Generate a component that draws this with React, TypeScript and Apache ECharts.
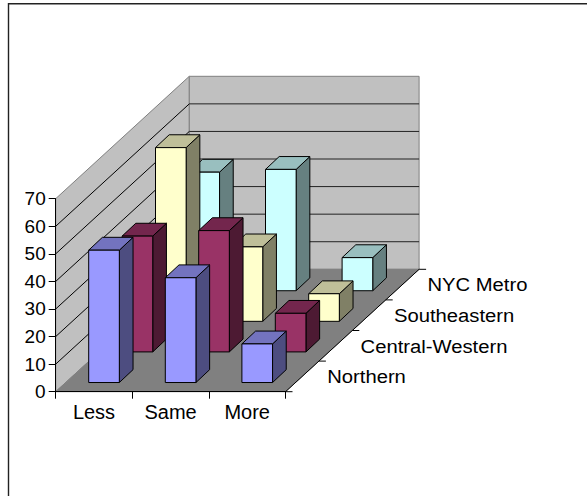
import React, { useEffect, useRef } from "react";
import * as echarts from "echarts";

const categories = ["Less", "Same", "More"];
const rowNames = ["Northern", "Central-Western", "Southeastern", "NYC Metro"];
const northern = [48, 38, 14];
const centralWestern = [42, 44, 14];
const southeastern = [63, 27, 10];
const nycMetro = [43, 44, 12];
const rowValues = [northern, centralWestern, southeastern, nycMetro];
const yTicks = [0, 10, 20, 30, 40, 50, 60, 70];

const FONT = "'Liberation Sans', Arial, sans-serif";
const FS = 19;
const DX = 33.4; // depth projection, one row
const DY = -30.6;
const GRID = { left: 55.7, top: 198.7, width: 229.8, height: 193 };

const rowColors = [
  { front: "#9999FF", top: "#7373BF", side: "#4D4D80" },
  { front: "#993366", top: "#73264D", side: "#4D1A33" },
  { front: "#FFFFCC", top: "#BFBF99", side: "#808066" },
  { front: "#CCFFFF", top: "#99BFBF", side: "#668080" },
];

const poly = (points: number[][], fill: string, stroke: string, lineWidth = 1) => ({
  type: "polygon",
  shape: { points },
  style: { fill, stroke, lineWidth },
});
const seg = (a: number[], b: number[], stroke: string, lineWidth = 1) => ({
  type: "line",
  shape: { x1: a[0], y1: a[1], x2: b[0], y2: b[1] },
  style: { stroke, lineWidth },
});

const renderWalls = (_p: any, api: any) => {
  const band = api.size([1, 0])[0];
  const n = categories.length;
  const left = api.coord([0, 0])[0] - band / 2;
  const right = left + band * n;
  const d = rowNames.length;
  const y0 = api.coord([0, 0])[1];
  const yMax = api.coord([0, yTicks[yTicks.length - 1]])[1];
  const bx = d * DX;
  const by = d * DY;
  const children: any[] = [
    poly([[left, y0], [left + bx, y0 + by], [left + bx, yMax + by], [left, yMax]], "#C0C0C0", "#808080"),
    poly([[left + bx, y0 + by], [right + bx, y0 + by], [right + bx, yMax + by], [left + bx, yMax + by]], "#C0C0C0", "#808080"),
    poly([[left, y0], [right, y0], [right + bx, y0 + by], [left + bx, y0 + by]], "#808080", "#808080"),
  ];
  yTicks.slice(1, -1).forEach((t) => {
    const y = api.coord([0, t])[1];
    children.push(seg([left, y], [left + bx, y + by], "#000"));
    children.push(seg([left + bx, y + by], [right + bx, y + by], "#222"));
  });
  return { type: "group", children };
};

const renderDepth = (_p: any, api: any) => {
  const band = api.size([1, 0])[0];
  const right = api.coord([0, 0])[0] - band / 2 + band * categories.length;
  const y0 = api.coord([0, 0])[1];
  const d = rowNames.length;
  const children: any[] = [seg([right, y0], [right + d * DX, y0 + d * DY], "#000")];
  for (let j = 0; j <= d; j++) {
    const x = right + j * DX;
    const y = y0 + j * DY;
    children.push(seg([x, y], [x + 7, y], "#000"));
  }
  rowNames.forEach((name, j) => {
    const x = right + (j + 0.5) * DX + 25;
    const y = y0 + (j + 0.5) * DY;
    children.push({
      type: "text",
      x,
      y,
      scaleX: 1.065,
      style: { text: name, fill: "#000", fontSize: FS, fontFamily: FONT, align: "left", verticalAlign: "middle" },
    });
  });
  return { type: "group", children };
};

const makeBarRenderer = (row: number) => (_p: any, api: any) => {
  const c = api.coord([api.value(0), 0]);
  const top = api.coord([api.value(0), api.value(1)])[1];
  const band = api.size([1, 0])[0];
  const h = c[1] - top;
  const w = band * 0.4;
  const f0 = row + 0.3;
  const x0 = c[0] - w / 2 + f0 * DX;
  const x1 = x0 + w;
  const yb = c[1] + f0 * DY;
  const yt = yb - h;
  const dx = 0.41 * DX;
  const dy = 0.42 * DY;
  const col = rowColors[row];
  return {
    type: "group",
    children: [
      poly([[x1, yb], [x1 + dx, yb + dy], [x1 + dx, yt + dy], [x1, yt]], col.side, "#000"),
      poly([[x0, yt], [x1, yt], [x1 + dx, yt + dy], [x0 + dx, yt + dy]], col.top, "#000"),
      poly([[x0, yb], [x1, yb], [x1, yt], [x0, yt]], col.front, "#000"),
    ],
  };
};

export default function App() {
  const ref = useRef<HTMLDivElement>(null);
  useEffect(() => {
    const chart = echarts.init(ref.current!, undefined, { renderer: "svg" });
    const labelStyle = { color: "#000", fontSize: FS, fontFamily: FONT };
    const barSeries = [3, 2, 1, 0].map((row) => ({
      type: "custom",
      name: rowNames[row],
      coordinateSystem: "cartesian2d",
      renderItem: makeBarRenderer(row),
      clip: false,
      silent: true,
      z: 5 + (3 - row),
      encode: { x: 0, y: 1 },
      data: rowValues[row].map((v, i) => [i, v]),
    }));
    chart.setOption({
      animation: false,
      backgroundColor: "#fff",
      graphic: [
        {
          type: "rect",
          silent: true,
          shape: { x: 8.5, y: 3.7, width: 700, height: 700 },
          style: { fill: "none", stroke: "#222", lineWidth: 1.4 },
        },
      ],
      grid: GRID,
      xAxis: {
        type: "category",
        data: categories,
        z: 20,
        axisLine: { show: true, lineStyle: { color: "#000", width: 1 } },
        axisTick: { show: true, alignWithLabel: false, length: 7, lineStyle: { color: "#000" } },
        axisLabel: { ...labelStyle, fontSize: 20, margin: 10, interval: 0 },
        splitLine: { show: false },
      },
      yAxis: {
        type: "value",
        min: 0,
        max: 70,
        interval: 10,
        z: 20,
        axisLine: { show: true, lineStyle: { color: "#000", width: 1 } },
        axisTick: { show: true, length: 7, lineStyle: { color: "#000" } },
        axisLabel: { ...labelStyle, margin: 10 },
        splitLine: { show: false },
      },
      series: [
        {
          type: "custom",
          name: "walls",
          renderItem: renderWalls,
          clip: false,
          silent: true,
          z: 1,
          encode: { x: 0, y: 1 },
          data: [[0, 0]],
        },
        {
          type: "custom",
          name: "depth",
          renderItem: renderDepth,
          clip: false,
          silent: true,
          z: 2,
          encode: { x: 0, y: 1 },
          data: [[0, 0]],
        },
        ...barSeries,
      ],
    });
    return () => chart.dispose();
  }, []);
  return (
    <div
      ref={ref}
      style={{ position: "fixed", left: 0, top: 0, width: 587, height: 496, background: "#fff" }}
    />
  );
}
